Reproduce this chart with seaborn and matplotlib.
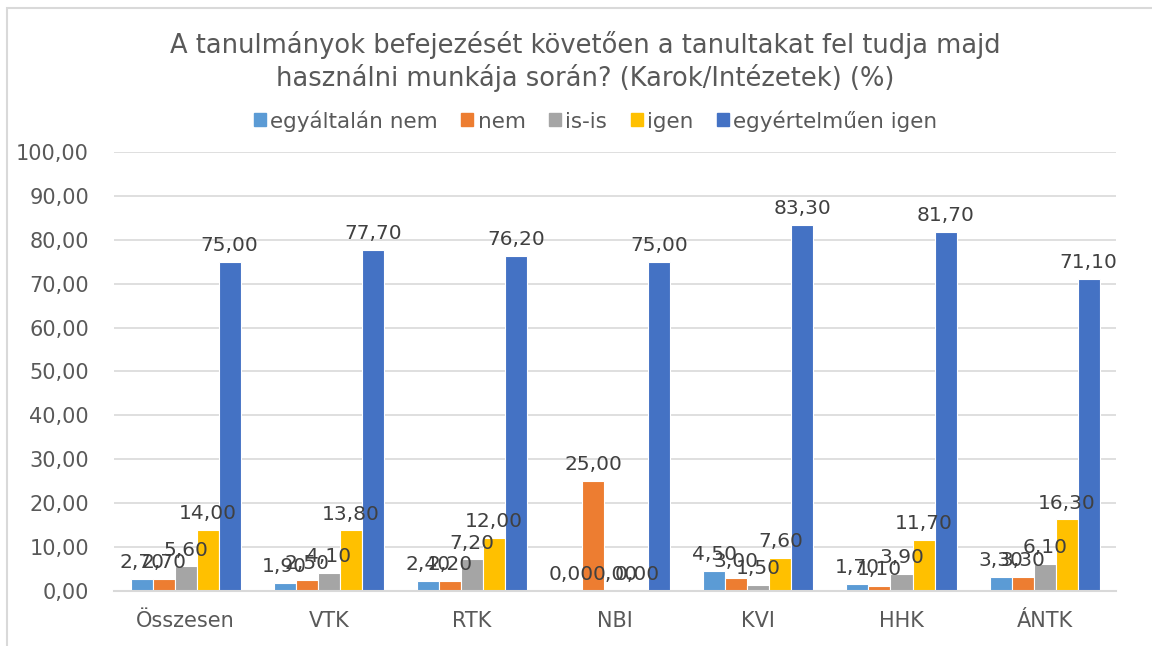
import matplotlib
matplotlib.use("Agg")
import matplotlib.pyplot as plt
import matplotlib.patches as mpatches
import seaborn as sns
import pandas as pd

# Karok / intézetek
karok = ["Összesen", "VTK", "RTK", "NBI", "KVI", "HHK", "ÁNTK"]

# Válaszkategóriák
valaszok = ["egyáltalán nem", "nem", "is-is", "igen", "egyértelműen igen"]

# Százalékos értékek válaszkategóriánként
egyaltalan_nem = [2.70, 1.90, 2.40, 0.00, 4.50, 1.70, 3.30]
nem = [2.70, 2.50, 2.20, 25.00, 3.00, 1.10, 3.30]
is_is = [5.60, 4.10, 7.20, 0.00, 1.50, 3.90, 6.10]
igen = [14.00, 13.80, 12.00, 0.00, 7.60, 11.70, 16.30]
egyertelmuen_igen = [75.00, 77.70, 76.20, 75.00, 83.30, 81.70, 71.10]

sorozatok = [egyaltalan_nem, nem, is_is, igen, egyertelmuen_igen]
szinek = ["#5B9BD5", "#ED7D31", "#A5A5A5", "#FFC000", "#4472C4"]

y_tickek = [0, 10, 20, 30, 40, 50, 60, 70, 80, 90, 100]

rows = []
for valasz, ertekek in zip(valaszok, sorozatok):
    for kar, v in zip(karok, ertekek):
        rows.append({"kar": kar, "valasz": valasz, "ertek": v})
df = pd.DataFrame(rows)

sns.set_theme(style="white")
plt.rcParams["font.family"] = ["DejaVu Sans"]

fig = plt.figure(figsize=(11.52, 6.46), dpi=100)
ax = fig.add_axes([0.099, 0.085, 0.870, 0.680])

sns.barplot(data=df, x="kar", y="ertek", hue="valasz", order=karok,
            hue_order=valaszok, palette=szinek, saturation=1, width=0.77,
            edgecolor="white", linewidth=0.8, ax=ax, legend=True)

ax.set_ylim(0, 100)
ax.set_xlim(-0.5, len(karok) - 0.5)
ax.set_yticks(y_tickek)
ax.set_yticklabels([f"{t:.2f}".replace(".", ",") for t in y_tickek])
ax.set_xlabel("")
ax.set_ylabel("")
ax.yaxis.grid(True, color="#D9D9D9", linewidth=1.2)
ax.set_axisbelow(True)
for s in ["top", "right", "left"]:
    ax.spines[s].set_visible(False)
ax.spines["bottom"].set_color("#D9D9D9")
ax.spines["bottom"].set_linewidth(1.5)
ax.tick_params(axis="both", length=0, labelsize=15, colors="#595959")
ax.tick_params(axis="x", pad=14)
ax.tick_params(axis="y", pad=18)

for cont in ax.containers:
    vals = [b.get_height() for b in cont]
    ax.bar_label(cont, labels=[f"{v:.2f}".replace(".", ",") for v in vals],
                 padding=5, fontsize=14.5, color="#404040")

handles = [mpatches.Patch(color=c) for c in szinek]
ax.legend(handles, valaszok, loc="center", bbox_to_anchor=(0.517, 0.813),
          bbox_transform=fig.transFigure, ncol=5, frameon=False,
          fontsize=15.5, handlelength=0.55, handleheight=0.55, handletextpad=0.2,
          columnspacing=1.1, labelcolor="#595959")

fig.text(0.508, 0.905,
         "A tanulmányok befejezését követően a tanultakat fel tudja majd\n"
         "használni munkája során? (Karok/Intézetek) (%)",
         ha="center", va="center", fontsize=18.5, color="#595959",
         linespacing=1.2)

# chart frame
fig.patches.append(mpatches.Rectangle((0.006, -0.02), 1.2, 1.008,
                                      transform=fig.transFigure, fill=False,
                                      edgecolor="#D9D9D9", linewidth=1.5))

fig.savefig("out.png", dpi=100, facecolor="white")
